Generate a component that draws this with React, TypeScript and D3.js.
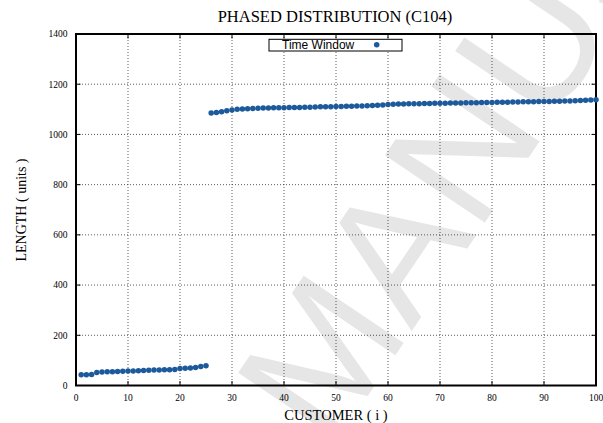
import React from "react";
import * as d3 from "d3";

const title = "PHASED DISTRIBUTION (C104)";
const xLabel = "CUSTOMER ( i )";
const yLabel = "LENGTH ( units )";
const seriesName = "Time Window";

const xTicks = [0, 10, 20, 30, 40, 50, 60, 70, 80, 90, 100];
const yTicks = [0, 200, 400, 600, 800, 1000, 1200, 1400];

const customers = d3.range(1, 101);
const lengths = [
  43, 43, 44, 52, 54, 55, 55, 56, 57, 58, 58, 59, 60, 61, 62, 62, 63, 63, 64, 68, 69, 70, 72, 76, 79,
  1085, 1087, 1090, 1094, 1097, 1100, 1101, 1102, 1103, 1104, 1105, 1105, 1106, 1106, 1106, 1107, 1107, 1107, 1108, 1108,
  1109, 1110, 1110, 1110, 1111, 1111, 1112, 1112, 1113, 1113, 1114, 1115, 1116, 1117, 1119, 1120, 1121, 1121, 1122, 1122,
  1122, 1123, 1123, 1124, 1124, 1124, 1125, 1125, 1125, 1126, 1126, 1126, 1127, 1127, 1127, 1128, 1128, 1128, 1129, 1129,
  1130, 1130, 1130, 1131, 1131, 1131, 1132, 1132, 1133, 1133, 1134, 1135, 1136, 1137, 1138,
];

const W = 603;
const H = 423;
const L = 76, R = 596, T = 34, B = 385.5;

export default function App() {
  const x = d3.scaleLinear().domain([0, 100]).range([L, R]);
  const y = d3.scaleLinear().domain([0, 1400]).range([B, T]);
  const serif = "'Liberation Serif', 'Times New Roman', serif";
  const sans = "'Liberation Sans', Arial, sans-serif";
  const color = "#1d5a9b";
  const marker = d3.symbol(d3.symbolCircle, 24)() as string;

  // watermark geometry
  const ang = -56;
  const px = 330, py = 452;

  return (
    <svg width={W} height={H} style={{ position: "absolute", left: 0, top: 0, background: "#fff" }}>
      <rect x={0} y={0} width={W} height={H} fill="#fff" />
      {/* watermark */}
      <g transform={`translate(${px},${py}) rotate(${ang})`} fill="#e6e6e6" fontFamily={sans} fontSize={175}>
        <text x={0} y={0} textAnchor="end">ACCEPTED&#160;</text>
        <text x={0} y={0} textAnchor="start">MANUSCRIPT</text>
      </g>
      {/* grid */}
      <g stroke="#000" strokeWidth={0.8} strokeDasharray="1,2" opacity={0.8}>
        {xTicks.slice(1, -1).map((t) => (
          <line key={"gx" + t} x1={x(t)} x2={x(t)} y1={T} y2={B} />
        ))}
        {yTicks.slice(1, -1).map((t) => (
          <line key={"gy" + t} x1={L} x2={R} y1={y(t)} y2={y(t)} />
        ))}
      </g>
      {/* ticks */}
      <g stroke="#000" strokeWidth={1}>
        {xTicks.map((t) => (
          <g key={"tx" + t}>
            <line x1={x(t)} x2={x(t)} y1={B} y2={B - 4.5} />
            <line x1={x(t)} x2={x(t)} y1={T} y2={T + 4.5} />
          </g>
        ))}
        {yTicks.map((t) => (
          <g key={"ty" + t}>
            <line x1={L} x2={L + 4.5} y1={y(t)} y2={y(t)} />
            <line x1={R} x2={R - 4.5} y1={y(t)} y2={y(t)} />
          </g>
        ))}
      </g>
      {/* frame */}
      <rect x={L} y={T} width={R - L} height={B - T} fill="none" stroke="#000" strokeWidth={2} />
      {/* tick labels */}
      <g fontFamily={serif} fontSize={9.5} fill="#000">
        {xTicks.map((t) => (
          <text key={"lx" + t} x={x(t)} y={401} textAnchor="middle">{t}</text>
        ))}
        {yTicks.map((t) => (
          <text key={"ly" + t} x={67.5} y={y(t) + 3.3} textAnchor="end">{t}</text>
        ))}
      </g>
      {/* points */}
      <g fill={color}>
        {customers.map((c, i) => (
          <path key={"p" + c} d={marker} transform={`translate(${x(c)},${y(lengths[i])})`} />
        ))}
      </g>
      {/* legend */}
      <rect x={269} y={39.3} width={133} height={11.7} fill="#fff" stroke="#000" strokeWidth={1} />
      <text x={282} y={49} fontFamily={sans} fontSize={12} fill="#000">{seriesName}</text>
      <path d={marker} transform={`translate(376.7,44.8)`} fill={color} />
      {/* titles */}
      <text x={335} y={22} textAnchor="middle" fontFamily={serif} fontSize={16.5} fill="#000">{title}</text>
      <text x={336} y={419.5} textAnchor="middle" fontFamily={serif} fontSize={14.5} fill="#000">{xLabel}</text>
      <text transform={`translate(25.5,210) rotate(-90)`} textAnchor="middle" fontFamily={serif} fontSize={14} fill="#000">{yLabel}</text>
    </svg>
  );
}
